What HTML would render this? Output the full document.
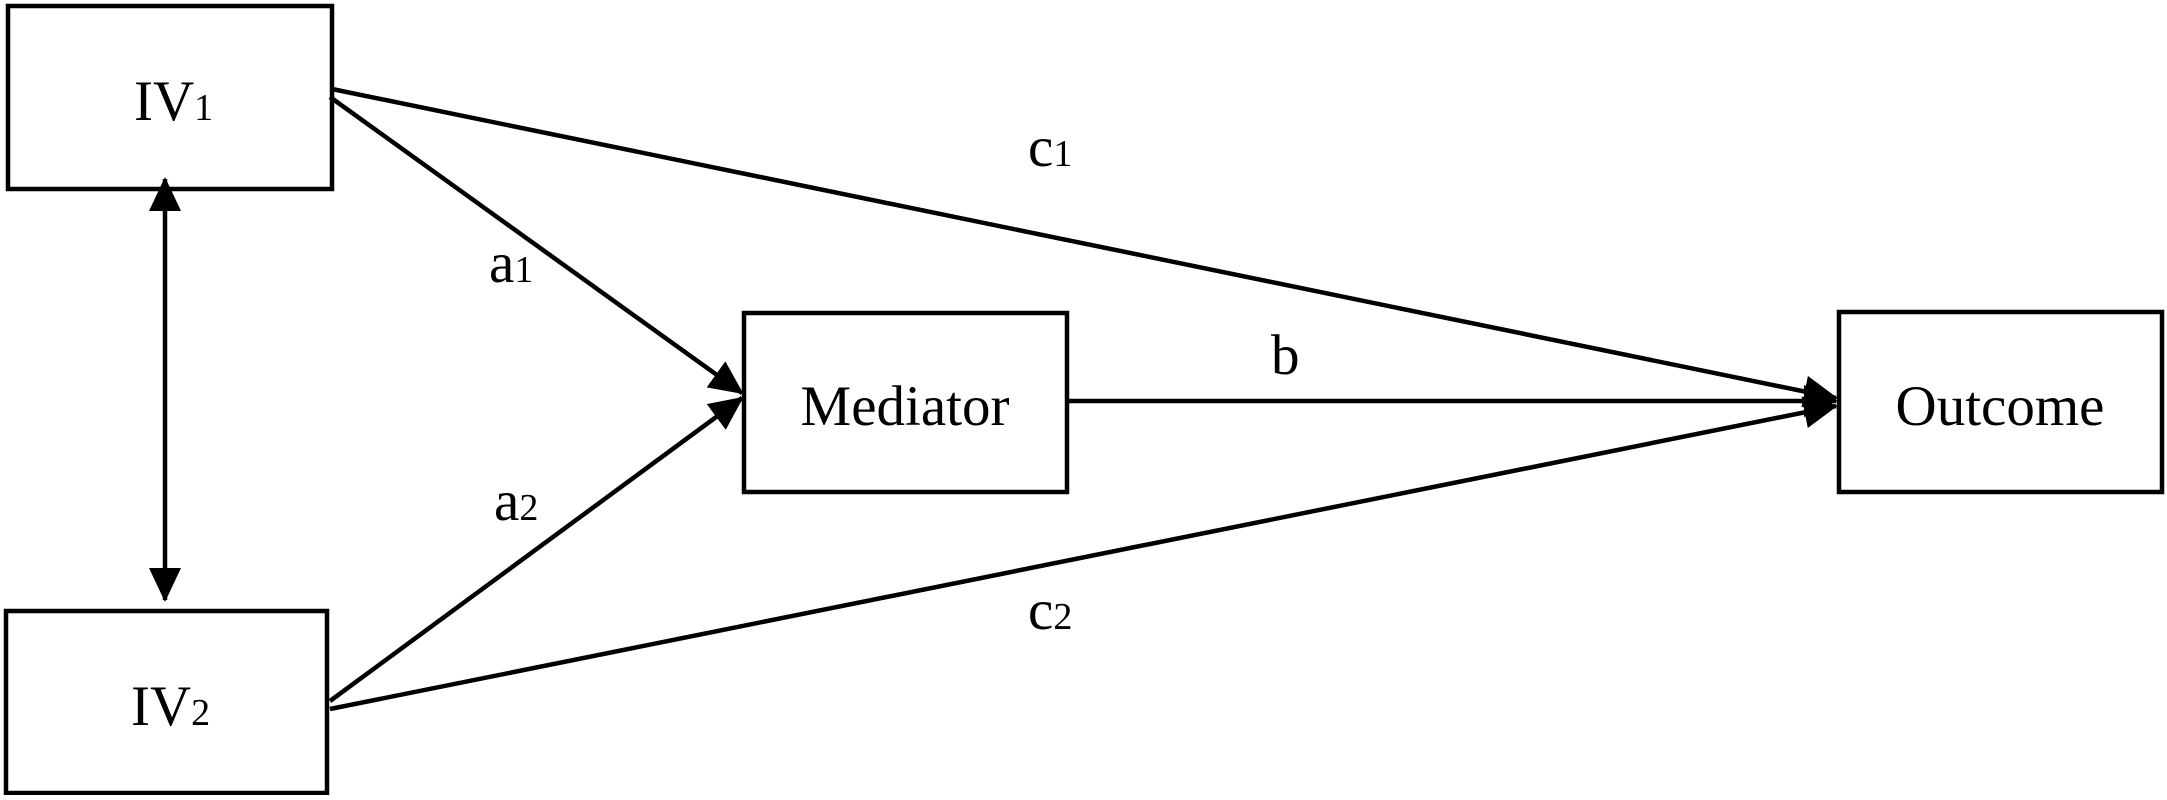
<!DOCTYPE html>
<html><head><style>
html,body{margin:0;padding:0;background:#fff;}
svg text{font-family:"Liberation Serif",serif;fill:#000;}
</style></head><body>
<svg width="2167" height="795" viewBox="0 0 2167 795" xmlns="http://www.w3.org/2000/svg">
<defs>
<marker id="ah" markerUnits="userSpaceOnUse" markerWidth="34" markerHeight="32" refX="32" refY="16" orient="auto">
<path d="M0,0 L34,16 L0,32 Z" fill="#000"/>
</marker>
<marker id="as" markerUnits="userSpaceOnUse" markerWidth="34" markerHeight="32" refX="2" refY="16" orient="auto">
<path d="M34,0 L0,16 L34,32 Z" fill="#000"/>
</marker>
</defs>
<g fill="none" stroke="#000" stroke-width="4.5">
<rect x="8" y="6" width="324" height="183"/>
<rect x="6" y="611" width="321" height="182"/>
<rect x="744" y="313" width="323" height="179"/>
<rect x="1839" y="312" width="323" height="180"/>
</g>
<g stroke="#000" stroke-width="4.5" fill="none">
<line x1="332" y1="89" x2="1836" y2="398" marker-end="url(#ah)"/>
<line x1="330" y1="97" x2="742" y2="393" marker-end="url(#ah)"/>
<line x1="330" y1="701" x2="742" y2="398" marker-end="url(#ah)"/>
<line x1="330" y1="709" x2="1836" y2="406" marker-end="url(#ah)"/>
<line x1="1067" y1="401" x2="1836" y2="401" marker-end="url(#ah)"/>
<line x1="165" y1="179" x2="165" y2="600" marker-start="url(#as)" marker-end="url(#ah)"/>
</g>
<g font-size="57">
<text x="134" y="120">IV<tspan font-size="38">1</tspan></text>
<text x="131" y="725">IV<tspan font-size="38">2</tspan></text>
<text x="905" y="425" text-anchor="middle">Mediator</text>
<text x="2000" y="425" text-anchor="middle">Outcome</text>
<text x="489" y="282">a<tspan font-size="38">1</tspan></text>
<text x="494" y="520">a<tspan font-size="38">2</tspan></text>
<text x="1271" y="374">b</text>
<text x="1028" y="166">c<tspan font-size="38">1</tspan></text>
<text x="1028" y="629">c<tspan font-size="38">2</tspan></text>
</g>
</svg>
</body></html>
